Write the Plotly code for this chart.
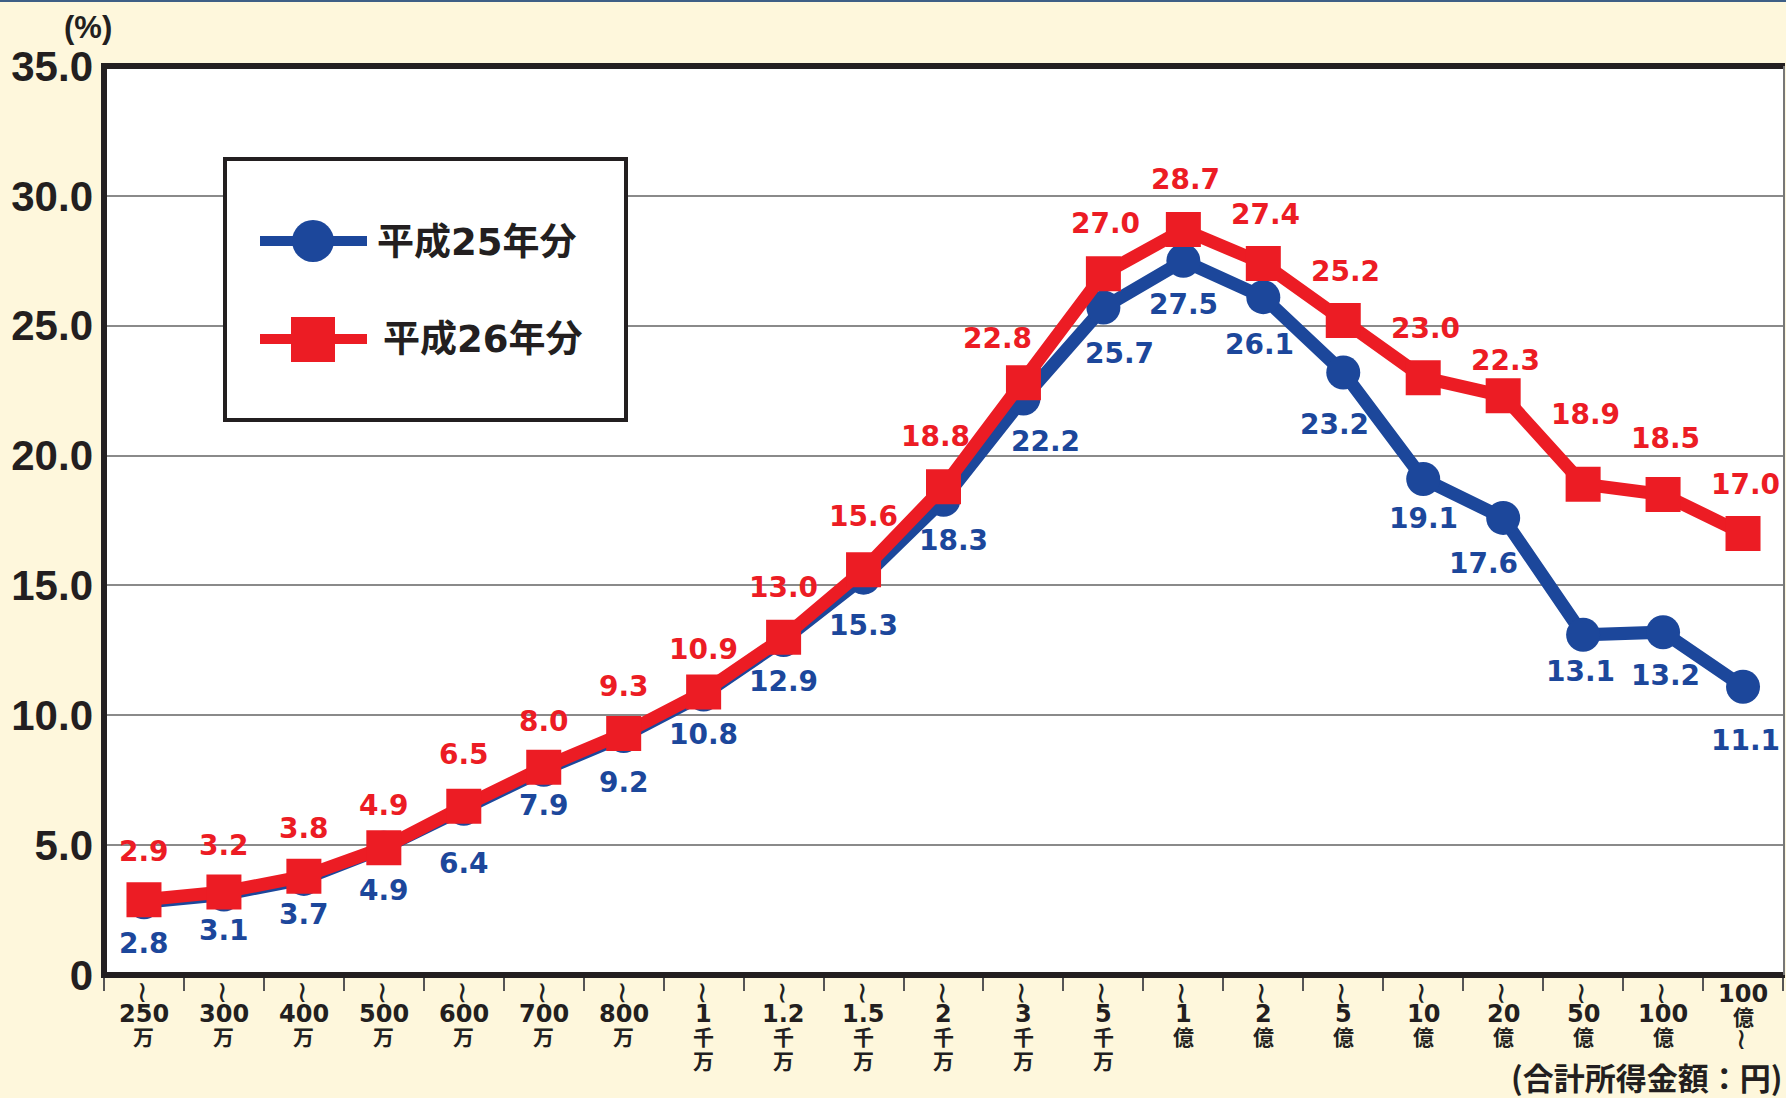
import re
import plotly.graph_objects as go

# income brackets (合計所得金額), "～" marks the open side of the bracket
CATEGORIES = ["～250万", "～300万", "～400万", "～500万", "～600万", "～700万", "～800万",
              "～1千万", "～1.2千万", "～1.5千万", "～2千万", "～3千万", "～5千万",
              "～1億", "～2億", "～5億", "～10億", "～20億", "～50億", "～100億", "100億～"]

H25_NAME = "平成25年分"
H26_NAME = "平成26年分"
H25_VALUES = [2.8, 3.1, 3.7, 4.9, 6.4, 7.9, 9.2, 10.8, 12.9, 15.3, 18.3,
              22.2, 25.7, 27.5, 26.1, 23.2, 19.1, 17.6, 13.1, 13.2, 11.1]
H26_VALUES = [2.9, 3.2, 3.8, 4.9, 6.5, 8.0, 9.3, 10.9, 13.0, 15.6, 18.8,
              22.8, 27.0, 28.7, 27.4, 25.2, 23.0, 22.3, 18.9, 18.5, 17.0]

Y_TICKS = [0, 5, 10, 15, 20, 25, 30, 35]
Y_TICK_TEXT = ["0", "5.0", "10.0", "15.0", "20.0", "25.0", "30.0", "35.0"]

# label nudges in pixels (style only)
H25_LABEL_DX = [0, 0, 0, 0, 0, 0, 0, 0, 0, 0, 10, 22, 16, 0, -4, -9, 0, -20, -3, 2, 2]
H25_LABEL_DY = [-41, -36, -36, -43, -55, -36, -46, -40, -42, -48, -41, -43, -46, -44,
                -47, -52, -40, -46, -37, -43, -54]
H26_LABEL_DX = [0, 0, 0, 0, 0, 0, 0, 0, 0, 0, -8, -26, 2, 2, 2, 2, 2, 2, 2, 2, 2]
H26_LABEL_DY = [48, 46, 48, 42, 52, 46, 47, 42, 50, 53, 50, 44, 50, 50, 49, 49, 49,
                35, 70, 56, 49]

BLUE = "#1C479B"
RED = "#EC1C24"
INK = "#231F20"
BG = "#FEF7DC"

W, H = 1786, 1098
PLOT_L, PLOT_R, PLOT_T, PLOT_B = 104, 1783, 66, 975


def px(x):
    return (x - PLOT_L) / (PLOT_R - PLOT_L)


def py(y):
    return (PLOT_B - y) / (PLOT_B - PLOT_T)


fig = go.Figure()
fig.add_trace(go.Scatter(
    x=CATEGORIES, y=H25_VALUES, name=H25_NAME, mode="lines+markers",
    line=dict(color=BLUE, width=13),
    marker=dict(symbol="circle", size=34, color=BLUE),
))
fig.add_trace(go.Scatter(
    x=CATEGORIES, y=H26_VALUES, name=H26_NAME, mode="lines+markers",
    line=dict(color=RED, width=13),
    marker=dict(symbol="square", size=35, color=RED),
))

label_font = "DejaVu Sans"
annotations = []
for cat, v, dx, dy in zip(CATEGORIES, H25_VALUES, H25_LABEL_DX, H25_LABEL_DY):
    annotations.append(dict(x=cat, y=v, xref="x", yref="y", text=f"{v:.1f}",
                            showarrow=False, xshift=dx, yshift=dy,
                            xanchor="center", yanchor="middle",
                            font=dict(family=label_font, size=28, color=BLUE, weight="bold")))
for cat, v, dx, dy in zip(CATEGORIES, H26_VALUES, H26_LABEL_DX, H26_LABEL_DY):
    annotations.append(dict(x=cat, y=v, xref="x", yref="y", text=f"{v:.1f}",
                            showarrow=False, xshift=dx, yshift=dy,
                            xanchor="center", yanchor="middle",
                            font=dict(family=label_font, size=28, color=RED, weight="bold")))

# vertical x tick labels, one annotation per row
tick_family = "DejaVu Sans, Noto Sans CJK JP"
for cat in CATEGORIES:
    wave_first = cat.startswith("～")
    num, unit = re.match(r"([\d.]+)(.*)", cat.strip("～")).groups()
    rows = [num] + list(unit)
    rows = (["~"] + rows) if wave_first else (rows + ["~"])
    cursor = 984 if wave_first else 982
    for r in rows:
        if r == "~":
            annotations.append(dict(x=cat, y=py(cursor + 9), xref="x", yref="paper",
                                    text="~", textangle=90, showarrow=False,
                                    xanchor="center", yanchor="middle",
                                    font=dict(family="DejaVu Sans", size=30, color=INK)))
            cursor += 18
        else:
            size = 24 if r == num else 21
            annotations.append(dict(x=cat, y=py(cursor + 12), xref="x", yref="paper",
                                    text=r, showarrow=False, xanchor="center", yanchor="middle",
                                    font=dict(family=tick_family, size=size, color=INK, weight="bold")))
            cursor += 24

annotations.append(dict(x=px(88), y=py(27), xref="paper", yref="paper", text="(%)",
                        showarrow=False, xanchor="center", yanchor="middle",
                        font=dict(family="Liberation Sans", size=31, color=INK, weight="bold")))
annotations.append(dict(x=px(1784), y=py(1076), xref="paper", yref="paper",
                        text="(合計所得金額：円)", showarrow=False, xanchor="right",
                        yanchor="middle",
                        font=dict(family="Noto Sans CJK JP", size=31, color=INK, weight="bold")))

# hand-drawn legend
legend_font = dict(family="DejaVu Sans, Noto Sans CJK JP", size=37, color=INK, weight="bold")
annotations.append(dict(x=px(375), y=py(242), xref="paper", yref="paper", text=H25_NAME,
                        showarrow=False, xanchor="left", yanchor="middle", font=legend_font))
annotations.append(dict(x=px(381), y=py(340), xref="paper", yref="paper", text=H26_NAME,
                        showarrow=False, xanchor="left", yanchor="middle", font=legend_font))

shapes = [
    # legend box
    dict(type="rect", xref="paper", yref="paper", x0=px(225), x1=px(626), y0=py(420), y1=py(159),
         line=dict(color=INK, width=4), fillcolor="white", layer="above"),
    dict(type="line", xref="paper", yref="paper", x0=px(260), x1=px(367), y0=py(241), y1=py(241),
         line=dict(color=BLUE, width=10), layer="above"),
    dict(type="circle", xref="paper", yref="paper", x0=px(292), x1=px(334), y0=py(262), y1=py(220),
         line=dict(width=0), fillcolor=BLUE, layer="above"),
    dict(type="line", xref="paper", yref="paper", x0=px(260), x1=px(367), y0=py(339), y1=py(339),
         line=dict(color=RED, width=10), layer="above"),
    dict(type="rect", xref="paper", yref="paper", x0=px(291), x1=px(335), y0=py(362), y1=py(317),
         line=dict(width=0), fillcolor=RED, layer="above"),
    # frame
    dict(type="path", xref="paper", yref="paper",
         path=f"M {px(1785)},{py(975)} L 0,{py(975)} L 0,1 L {px(1785)},1",
         line=dict(color=INK, width=6), layer="above"),
    dict(type="line", xref="paper", yref="paper", x0=px(1784), x1=px(1784), y0=py(975), y1=1,
         line=dict(color="#777777", width=2), layer="above"),
    # thin rule on top of the page
    dict(type="line", xref="paper", yref="paper", x0=px(0), x1=px(W), y0=py(1), y1=py(1),
         line=dict(color="#3E5F86", width=2)),
]

fig.update_layout(
    width=W, height=H, autosize=False,
    margin=dict(l=PLOT_L, r=W - PLOT_R, t=PLOT_T, b=H - PLOT_B, pad=0),
    paper_bgcolor=BG, plot_bgcolor="white",
    showlegend=False,
    annotations=annotations,
    shapes=shapes,
)
fig.update_xaxes(
    type="category", range=[-0.5, len(CATEGORIES) - 0.5],
    showgrid=False, zeroline=False, showline=False, showticklabels=False,
    ticks="outside", tickson="boundaries", ticklen=15, tickwidth=2, tickcolor="#555555",
)
fig.update_yaxes(
    range=[0, 35], tickvals=Y_TICKS, ticktext=Y_TICK_TEXT,
    showgrid=True, gridcolor="#8A8A8A", gridwidth=2,
    zeroline=False, showline=False, ticks="", ticklabelstandoff=10,
    tickfont=dict(family="Liberation Sans", size=42, color=INK, weight="bold"),
)

fig.write_html("out.html", config={"displayModeBar": False},
               post_script="document.body.style.margin='0';")
